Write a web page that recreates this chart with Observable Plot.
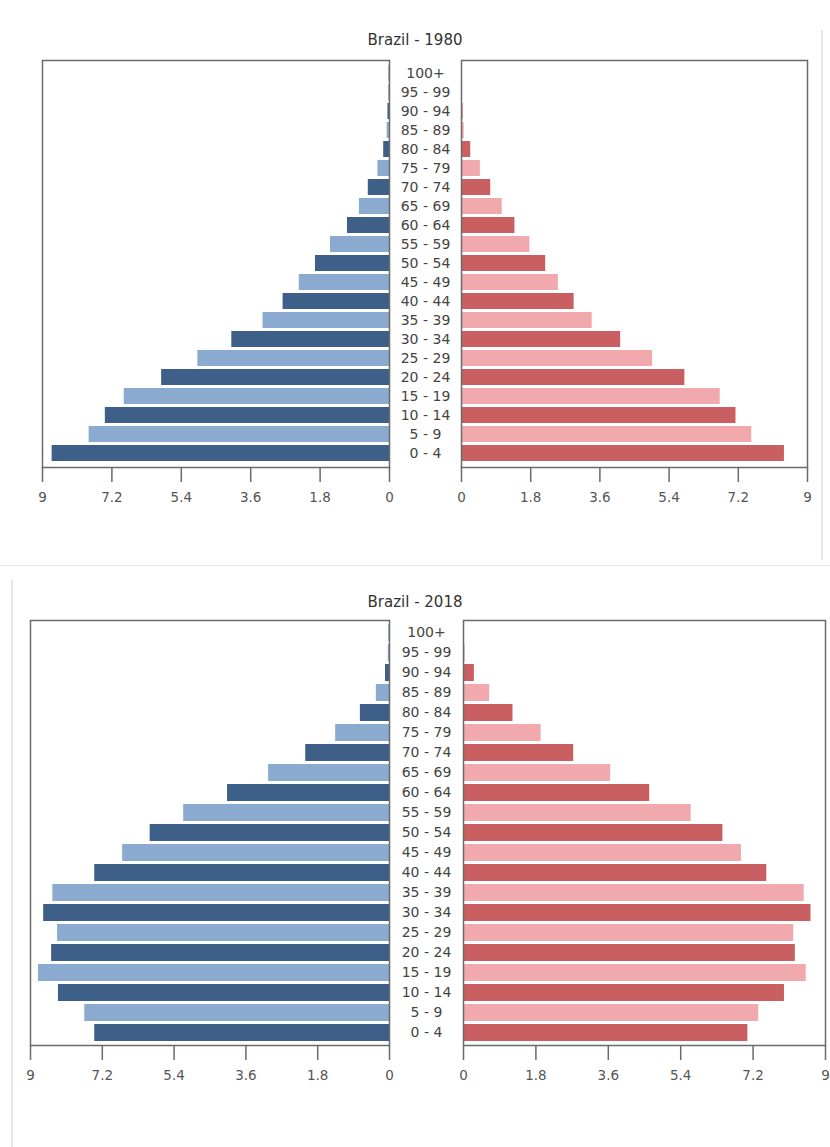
<!DOCTYPE html>
<html>
<head>
<meta charset="utf-8">
<script src="https://cdn.jsdelivr.net/npm/d3@7"></script>
<script src="https://cdn.jsdelivr.net/npm/@observablehq/plot@0.6"></script>
<style>
  html, body { margin: 0; padding: 0; background: #fff; }
  #root { position: relative; width: 830px; height: 1147px; overflow: hidden; font-family: "DejaVu Sans", sans-serif; }
  .title { position: absolute; width: 830px; text-align: center; font-size: 15px; color: #333; }
  .line { position: absolute; background: #e6e6e6; }
</style>
</head>
<body>
<div id="root"></div>
<script>
const ages = ["100+","95 - 99","90 - 94","85 - 89","80 - 84","75 - 79","70 - 74","65 - 69","60 - 64","55 - 59","50 - 54","45 - 49","40 - 44","35 - 39","30 - 34","25 - 29","20 - 24","15 - 19","10 - 14","5 - 9","0 - 4"];
const xTicks = [0, 1.8, 3.6, 5.4, 7.2, 9];

const male1980   = [0.01,0.02,0.04,0.06,0.15,0.30,0.55,0.78,1.09,1.53,1.92,2.34,2.76,3.28,4.09,4.97,5.91,6.88,7.37,7.79,8.75];
const female1980 = [0.01,0.02,0.04,0.07,0.24,0.49,0.76,1.06,1.39,1.78,2.19,2.52,2.93,3.40,4.14,4.97,5.81,6.73,7.14,7.55,8.40];
const male2018   = [0.01,0.03,0.10,0.33,0.73,1.35,2.10,3.03,4.06,5.16,6.00,6.69,7.39,8.44,8.67,8.32,8.47,8.80,8.30,7.64,7.39];
const female2018 = [0.01,0.04,0.27,0.65,1.23,1.93,2.74,3.66,4.63,5.66,6.45,6.91,7.54,8.47,8.64,8.21,8.25,8.52,7.98,7.34,7.07];

const maleColors = ["#3e5f87", "#8aaad0"];
const femaleColors = ["#c95f60", "#f1a9ae"];

const root = document.getElementById("root");

function rows(values, colors) {
  return ages.map((age, i) => ({
    age, value: values[i],
    color: colors[(ages.length - 1 - i) % 2]
  }));
}

function panel({values, colors, reverse, left, top, width, height, marginLeft, marginRight, marginTop, marginBottom, labels, labelPad}) {
  const marks = [
    Plot.barX(rows(values, colors), {x: "value", y: "age", fill: "color"}),
    Plot.frame({stroke: "#6a6a6a", strokeWidth: 1.5}),
    Plot.axisX({ticks: xTicks, tickSize: 15, tickPadding: 10, stroke: "#6a6a6a", strokeWidth: 1.5, fill: "#555", fontSize: 13.5, tickFormat: d => String(d), label: null})
  ];
  if (labels) marks.push(Plot.axisY({anchor: "left", tickSize: 0, tickPadding: labelPad, textAnchor: "middle", fill: "#444", fontSize: 14, label: null}));
  const svg = Plot.plot({
    width, height, marginLeft, marginRight, marginTop, marginBottom,
    style: {fontFamily: "DejaVu Sans", fontSize: "13px", background: "transparent", overflow: "visible"},
    x: {domain: [0, 9], reverse, label: null},
    y: {domain: ages, padding: 0.14, label: null, axis: labels ? undefined : null},
    color: {type: "identity"},
    marks
  });
  svg.style.position = "absolute";
  svg.style.left = left + "px";
  svg.style.top = top + "px";
  root.appendChild(svg);
}

function title(text, top) {
  const d = document.createElement("div");
  d.className = "title";
  d.style.top = top + "px";
  d.textContent = text;
  root.appendChild(d);
}
function line(l, t, w, h) {
  const d = document.createElement("div");
  d.className = "line";
  Object.assign(d.style, {left: l + "px", top: t + "px", width: w + "px", height: h + "px"});
  root.appendChild(d);
}

// faint page borders
line(821, 30, 2, 530);
line(0, 565, 830, 1);
line(11, 580, 2, 567);

// Chart 1: Brazil - 1980
title("Brazil - 1980", 31);
panel({values: male1980, colors: maleColors, reverse: true, left: 0, top: 0, width: 395, height: 520,
  marginLeft: 42, marginRight: 6, marginTop: 60, marginBottom: 53});
panel({values: female1980, colors: femaleColors, reverse: false, left: 395, top: 0, width: 435, height: 520,
  marginLeft: 66, marginRight: 23, marginTop: 60, marginBottom: 53, labels: true, labelPad: 36});

// Chart 2: Brazil - 2018
title("Brazil - 2018", 593);
panel({values: male2018, colors: maleColors, reverse: true, left: 0, top: 560, width: 395, height: 540,
  marginLeft: 30, marginRight: 6, marginTop: 60, marginBottom: 55});
panel({values: female2018, colors: femaleColors, reverse: false, left: 395, top: 560, width: 435, height: 540,
  marginLeft: 68, marginRight: 5, marginTop: 60, marginBottom: 55, labels: true, labelPad: 37});
</script>
</body>
</html>
